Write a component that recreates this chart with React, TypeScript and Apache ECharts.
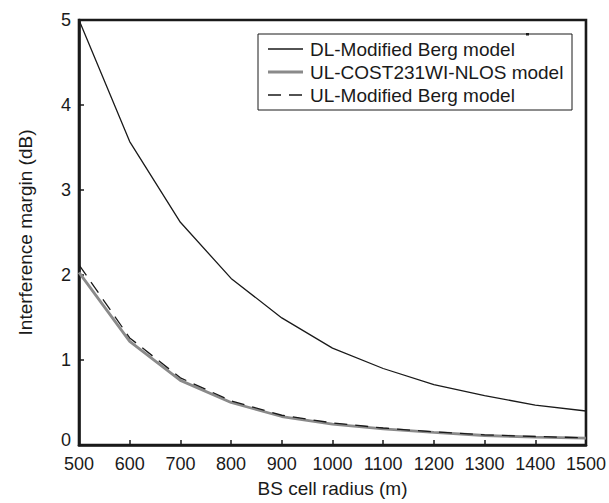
import React, { useEffect, useRef } from "react";
import * as echarts from "echarts";

const radius = [500, 600, 700, 800, 900, 1000, 1100, 1200, 1300, 1400, 1500];
const dlBerg = [5.0, 3.57, 2.62, 1.96, 1.495, 1.14, 0.9, 0.71, 0.58, 0.47, 0.4];
const ulCost = [2.03, 1.22, 0.76, 0.5, 0.335, 0.245, 0.19, 0.148, 0.112, 0.092, 0.08];
const ulBerg = [2.12, 1.26, 0.79, 0.52, 0.35, 0.26, 0.2, 0.155, 0.12, 0.1, 0.085];
const seriesNames = ["DL-Modified Berg model", "UL-COST231WI-NLOS model", "UL-Modified Berg model"];

const font = "'Liberation Sans', Arial, Helvetica, sans-serif";
const ink = "#1a1a1a";
const grey = "#8a8a8a";
const dash = [13, 8];

export default function App() {
  const ref = useRef<HTMLDivElement>(null);
  useEffect(() => {
    if (!ref.current) return;
    const chart = echarts.init(ref.current, null, { renderer: "svg" });
    const pair = (ys: number[]) => radius.map((x, i) => [x, ys[i]]);

    const legendStyles = [
      { stroke: ink, lineWidth: 1.3 },
      { stroke: grey, lineWidth: 2.8 },
      { stroke: ink, lineWidth: 1.3, lineDash: dash },
    ];
    const rowY = [49, 72, 95];
    const legendChildren: any[] = [
      {
        type: "rect",
        shape: { x: 258, y: 34, width: 314, height: 76 },
        style: { fill: "#fff", stroke: ink, lineWidth: 1 },
      },
      {
        type: "rect",
        shape: { x: 526, y: 33, width: 3, height: 2.5 },
        style: { fill: ink },
      },
    ];
    seriesNames.forEach((n, i) => {
      legendChildren.push({
        type: "line",
        shape: { x1: 268, y1: rowY[i], x2: 303, y2: rowY[i] },
        style: { ...legendStyles[i], fill: null },
      });
      legendChildren.push({
        type: "text",
        x: 310,
        y: rowY[i],
        style: {
          text: n,
          fontFamily: font,
          fontSize: 19,
          fill: ink,
          verticalAlign: "middle",
          align: "left",
        },
      });
    });

    chart.setOption({
      animation: false,
      backgroundColor: "#ffffff",
      textStyle: { fontFamily: font },
      grid: {
        left: 79,
        top: 20,
        right: 23,
        bottom: 56,
        show: true,
        borderColor: ink,
        borderWidth: 2.6,
      },
      xAxis: {
        type: "value",
        min: 500,
        max: 1500,
        interval: 100,
        name: "BS cell radius (m)",
        nameLocation: "middle",
        nameGap: 34,
        nameTextStyle: { fontFamily: font, fontSize: 19, color: ink },
        axisLine: { show: true, lineStyle: { color: ink, width: 2.6 } },
        axisTick: { show: true, inside: true, length: 5, lineStyle: { color: ink, width: 1.5 } },
        axisLabel: {
          fontFamily: font,
          fontSize: 18,
          lineHeight: 13,
          color: ink,
          margin: 12,
          formatter: (v: number) => String(v),
        },
        splitLine: { show: false },
      },
      yAxis: {
        type: "value",
        min: 0,
        max: 5,
        interval: 1,
        name: "Interference margin (dB)",
        nameLocation: "middle",
        nameGap: 44,
        nameTextStyle: { fontFamily: font, fontSize: 19, color: ink },
        axisLine: { show: true, lineStyle: { color: ink, width: 2.6 } },
        axisTick: { show: true, inside: true, length: 5, lineStyle: { color: ink, width: 1.5 } },
        axisLabel: {
          fontFamily: font,
          fontSize: 18,
          lineHeight: 13,
          color: ink,
          margin: 8,
          formatter: (v: number) => (v === 0 ? "{z|0}" : String(v)),
          rich: {
            z: {
              fontFamily: font,
              fontSize: 18,
              lineHeight: 13,
              color: ink,
              padding: [0, 0, 10, 0],
            },
          },
        },
        splitLine: { show: false },
      },
      series: [
        {
          name: seriesNames[0],
          type: "line",
          data: pair(dlBerg),
          symbol: "none",
          lineStyle: { color: ink, width: 1.3 },
          z: 3,
        },
        {
          name: seriesNames[1],
          type: "line",
          data: pair(ulCost),
          symbol: "none",
          lineStyle: { color: grey, width: 2.8 },
          z: 2,
        },
        {
          name: seriesNames[2],
          type: "line",
          data: pair(ulBerg),
          symbol: "none",
          lineStyle: { color: ink, width: 1.3, type: dash },
          z: 4,
        },
      ],
      graphic: [{ type: "group", z: 100, children: legendChildren }],
    });
    return () => chart.dispose();
  }, []);
  return <div ref={ref} style={{ width: 609, height: 503, position: "absolute", left: 0, top: 0 }} />;
}
